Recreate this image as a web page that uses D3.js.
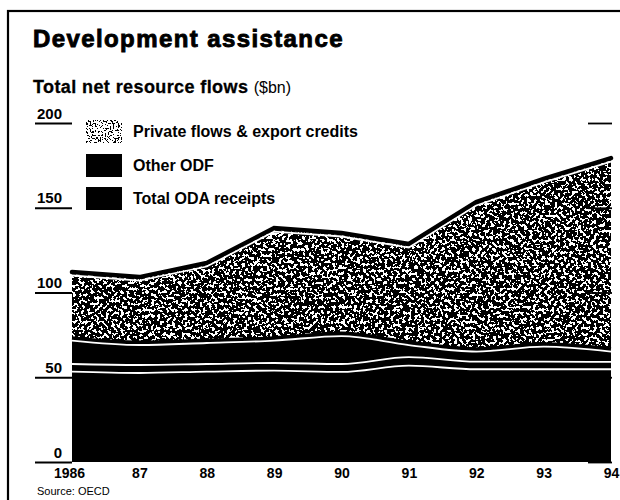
<!DOCTYPE html>
<meta charset="utf-8">
<style>
  body { margin: 0; background: #fff; }
  svg { display: block; font-family: "Liberation Sans", Arial, sans-serif; }
</style>
<script src="https://d3js.org/d3.v7.min.js"></script>
<body>
<div id="chart"></div>
<script>

// values ($bn)
var years = [1986, 1987, 1988, 1989, 1990, 1991, 1992, 1993, 1994];
var yearLabels = ["1986", "87", "88", "89", "90", "91", "92", "93", "94"];
var odaMain = [54.2, 53.4, 54.2, 54.8, 54.0, 57.7, 55.6, 55.6, 55.6];
var odaThin = [4.5, 4.7, 4.5, 4.5, 4.7, 5.1, 4.5, 4.5, 4.3];
var otherOdf = [13.8, 11.8, 12.4, 13.2, 16.5, 7.1, 5.9, 8.8, 6.1];
var privateFlows = [39.3, 38.9, 46.0, 65.2, 59.6, 58.4, 87.1, 97.8, 113.0];
var yTicks = [0, 50, 100, 150, 200];
var legendLabels = ["Private flows & export credits", "Other ODF", "Total ODA receipts"];

var width = 620, height = 500;

var svg = d3.select("#chart").append("svg")
  .attr("width", width)
  .attr("height", height);

var defs = svg.append("defs");

// newsprint stipple: thresholded noise, clipped to the shape
function stipple(id, freq, cut, seed) {
  var n = 40;
  var table = d3.range(n).map(function(k) { return k / n < cut ? 0 : 1; }).join(" ");
  var f = defs.append("filter").attr("id", id)
    .attr("x", "0%").attr("y", "0%").attr("width", "100%").attr("height", "100%")
    .attr("color-interpolation-filters", "sRGB");
  f.append("feTurbulence").attr("type", "fractalNoise")
    .attr("baseFrequency", freq).attr("numOctaves", 2).attr("seed", seed).attr("result", "t");
  f.append("feColorMatrix").attr("in", "t").attr("type", "matrix")
    .attr("values", "0 0 0 0 0  0 0 0 0 0  0 0 0 0 0  1 0 0 0 0").attr("result", "r");
  f.append("feComponentTransfer").attr("in", "r").attr("result", "th")
    .append("feFuncA").attr("type", "discrete").attr("tableValues", table);
  f.append("feComposite").attr("in", "th").attr("in2", "SourceGraphic").attr("operator", "in");
}
stipple("dots", 0.33, 0.45, 7);
stipple("dotsLight", 0.6, 0.57, 3);

// frame
svg.append("rect")
  .attr("x", 8).attr("y", 11)
  .attr("width", 700).attr("height", 600)
  .attr("fill", "none").attr("stroke", "#000").attr("stroke-width", 2.2);

// titles
svg.append("text")
  .attr("x", 33).attr("y", 47)
  .attr("font-size", 24).attr("font-weight", "bold")
  .attr("letter-spacing", 1.4)
  .attr("stroke", "#000").attr("stroke-width", 0.9)
  .text("Development assistance");

var sub = svg.append("text")
  .attr("x", 33).attr("y", 93)
  .attr("font-size", 18);
sub.append("tspan").attr("font-weight", "bold").attr("letter-spacing", 0.4)
  .attr("stroke", "#000").attr("stroke-width", 0.3)
  .text("Total net resource flows ");
sub.append("tspan").attr("font-size", 16).text("($bn)");

// scales
var x = d3.scaleLinear().domain([1986, 1994]).range([72, 611]);
var y = d3.scaleLinear().domain([0, 200]).range([462, 123]);

// y ticks: underlines with labels on top, and short marks on the right
var yAxis = svg.append("g")
  .attr("transform", "translate(35,0)")
  .call(d3.axisRight(y).tickValues(yTicks).tickSize(37).tickFormat(d3.format("d")));
yAxis.select(".domain").remove();
yAxis.selectAll("line").attr("stroke", "#000").attr("stroke-width", 1.8);
yAxis.selectAll("text")
  .attr("x", 27).attr("y", -5).attr("dy", null)
  .attr("text-anchor", "end")
  .attr("font-size", 15).attr("font-weight", "bold")
  .attr("font-family", "Liberation Sans, Arial, sans-serif")
  .attr("fill", "#000");

var yRight = svg.append("g")
  .attr("transform", "translate(612,0)")
  .call(d3.axisLeft(y).tickValues(yTicks).tickSize(24).tickFormat(""));
yRight.select(".domain").remove();
yRight.selectAll("line").attr("stroke", "#000").attr("stroke-width", 1.8);

// stacked data
var keys = ["odaMain", "odaThin", "otherOdf", "privateFlows"];
var rows = years.map(function(yr, i) {
  return { year: yr, odaMain: odaMain[i], odaThin: odaThin[i], otherOdf: otherOdf[i], privateFlows: privateFlows[i] };
});
var series = d3.stack().keys(keys)(rows);

function tops(s) { return s.map(function(p) { return { year: p.data.year, v: p[1] }; }); }
var topTotal = tops(series[3]);
var topOdf = tops(series[2]);
var topThin = tops(series[1]);
var topOda = tops(series[0]);

var smooth = d3.curveMonotoneX;

function areaTo(curve) {
  return d3.area().curve(curve)
    .x(function(d) { return x(d.year); })
    .y0(y(0))
    .y1(function(d) { return y(d.v); });
}
function lineOf(curve) {
  return d3.line().curve(curve)
    .x(function(d) { return x(d.year); })
    .y(function(d) { return y(d.v); });
}

var plot = svg.append("g");

// private flows: stippled, then the black ODF + ODA block over it
plot.append("path").datum(topTotal)
  .attr("d", areaTo(d3.curveLinear))
  .attr("fill", "#000")
  .attr("filter", "url(#dots)");
plot.append("path").datum(topOdf)
  .attr("d", areaTo(smooth))
  .attr("fill", "#000");

// boundaries: black rule with a white hairline just beneath
plot.append("path").datum(topTotal)
  .attr("d", lineOf(d3.curveLinear))
  .attr("transform", "translate(0,-0.5)")
  .attr("fill", "none").attr("stroke", "#000").attr("stroke-width", 4.5)
  .attr("stroke-linecap", "round");
plot.append("path").datum(topOdf)
  .attr("d", lineOf(smooth))
  .attr("transform", "translate(0,-1.2)")
  .attr("fill", "none").attr("stroke", "#000").attr("stroke-width", 3.5);

[[topTotal, d3.curveLinear, 3], [topOdf, smooth, 1.5], [topThin, smooth, 1.5], [topOda, smooth, 1.5]]
  .forEach(function(b) {
    plot.append("path").datum(b[0])
      .attr("d", lineOf(b[1]))
      .attr("transform", "translate(0," + b[2] + ")")
      .attr("fill", "none").attr("stroke", "#fff").attr("stroke-width", 1.8);
  });

// x labels
var xAxis = svg.append("g")
  .attr("transform", "translate(0," + y(0) + ")")
  .call(d3.axisBottom(x).tickValues(years).tickSize(0)
    .tickFormat(function(d, i) { return yearLabels[i]; }));
xAxis.select(".domain").remove();
xAxis.selectAll("text")
  .attr("y", 16).attr("dy", null)
  .attr("font-size", 14).attr("font-weight", "bold")
  .attr("font-family", "Liberation Sans, Arial, sans-serif")
  .attr("fill", "#000");
xAxis.selectAll(".tick").filter(function(d) { return d === 1986; })
  .select("text").attr("x", -3);

// legend
var legY = [120, 154, 187];
var leg = svg.append("g");
legendLabels.forEach(function(lab, i) {
  leg.append("rect")
    .attr("x", 86).attr("y", legY[i])
    .attr("width", 36).attr("height", 23)
    .attr("fill", "#000")
    .attr("filter", i === 0 ? "url(#dotsLight)" : null);
  leg.append("text")
    .attr("x", 133).attr("y", legY[i] + 17)
    .attr("font-size", 16).attr("font-weight", "bold")
    .text(lab);
});

// source
svg.append("text")
  .attr("x", 37).attr("y", 495)
  .attr("font-size", 11)
  .text("Source: OECD");

</script>
</body>
